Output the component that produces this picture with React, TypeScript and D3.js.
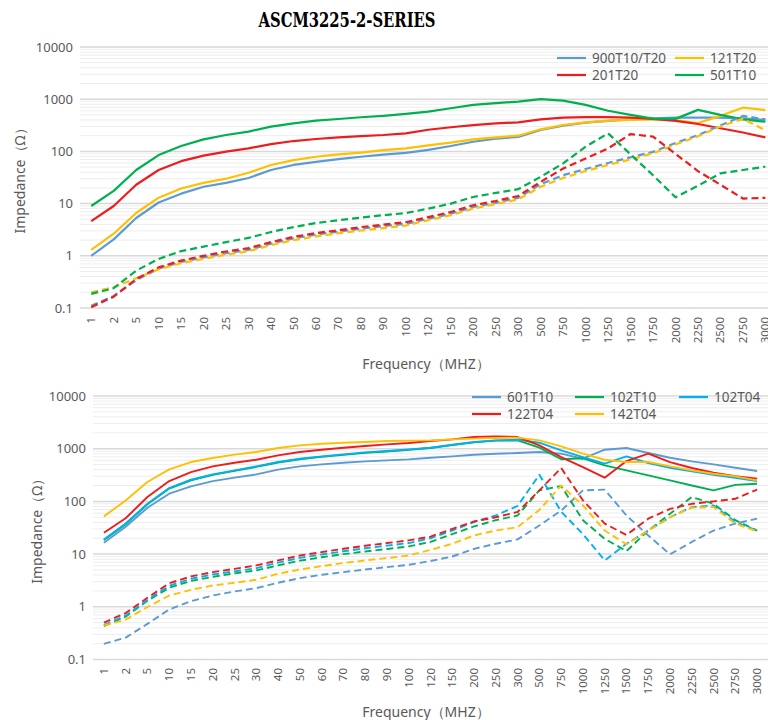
import React from "react";
import * as d3 from "d3";

const categories = ["1","2","5","10","15","20","25","30","40","50","60","70","80","90","100","120","150","200","250","300","500","750","1000","1250","1500","1750","2000","2250","2500","2750","3000"];
const yTicks = [0.1, 1, 10, 100, 1000, 10000];

// ---- Top chart ----
const topNames = ["900T10/T20", "121T20", "201T20", "501T10"];
const topColors = ["#5B9BD5", "#FFC000", "#EE1C1C", "#00B050"];
const top900Solid = [1.0,2.06,5.3,10.5,15.5,21,25,31,44,55,63,71,79,87,94,107,127,153,175,190,257,311,356,383,412,431,444,444,444,431,400];
const top121Solid = [1.3,2.65,6.6,13,19.5,25,30,39,55,68,79,88,95,106,114,130,147,170,186,200,265,320,360,390,400,410,400,350,480,687,620];
const top201Solid = [4.6,9,23,44,65,83,99,114,138,158,173,186,197,206,222,260,290,320,345,360,410,445,455,455,445,420,385,335,278,230,186];
const top501Solid = [9,17.5,44,85,127,170,206,239,298,345,388,418,451,478,522,580,670,780,840,900,1000,940,780,600,500,425,420,625,500,410,370];
const top900Dash = [0.11,0.17,0.34,0.57,0.76,0.93,1.12,1.3,1.7,2.15,2.55,2.9,3.3,3.7,4.1,5.1,6.4,8.6,10.3,12.9,23.5,35,46,60,77,98,145,205,315,478,412];
const top121Dash = [0.2,0.25,0.37,0.55,0.72,0.88,1.05,1.22,1.6,2.0,2.35,2.7,3.05,3.4,3.8,4.8,6.0,8.0,9.8,12,21,31,42,55,70,92,135,195,300,420,255];
const top201Dash = [0.103,0.165,0.36,0.6,0.81,1.0,1.21,1.4,1.83,2.3,2.73,3.07,3.55,3.95,4.4,5.5,6.9,9.3,11.2,14,26,47,73,114,215,192,90,42,23,12.5,12.9];
const top501Dash = [0.186,0.24,0.52,0.87,1.23,1.5,1.83,2.2,2.85,3.55,4.25,4.8,5.4,6.0,6.6,8.0,10,13.4,16,18.9,32.6,59,123,222,88,35,13.2,22,38,44,51];

// ---- Bottom chart ----
const botNames = ["601T10", "102T10", "102T04", "122T04", "142T04"];
const botColors = ["#5B9BD5", "#00B050", "#00B0F0", "#EE1C1C", "#FFC000"];
const bot601Solid = [16.4,33,76,140,193,243,282,325,400,462,505,542,575,600,628,675,715,770,804,827,864,804,646,958,1030,827,675,575,505,436,377];
const bot102T10Solid = [18.5,37,88,175,252,318,380,452,546,632,700,765,835,885,950,1030,1170,1320,1420,1440,1045,630,657,483,388,312,250,200,162,206,216];
const bot102T04Solid = [19,38,90,179,258,325,388,462,558,646,714,780,852,903,970,1045,1190,1340,1440,1480,1300,930,694,519,715,535,436,372,320,281,243];
const bot122Solid = [25.4,48,121,243,360,462,542,617,747,865,958,1045,1124,1208,1280,1400,1500,1665,1713,1665,1157,694,449,282,583,804,558,430,350,302,270];
const bot142Solid = [52,104,233,405,558,666,770,865,1030,1157,1244,1300,1340,1400,1420,1440,1500,1550,1595,1620,1440,1108,804,617,558,558,462,388,335,298,250];
const bot601Dash = [0.198,0.26,0.475,0.89,1.28,1.64,1.95,2.26,2.86,3.5,4.05,4.55,5.1,5.66,6.27,7.4,9.0,12.6,15.7,19,35,67,162,167,54,22.6,9.9,17,28,38,47];
const bot102T10Dash = [0.43,0.65,1.3,2.3,3.1,3.7,4.3,4.9,6.1,7.5,8.7,10,11.2,12.5,14,17,24,33.5,44,54,162,196,44,19.5,11.4,28,58,121,90,44,28];
const bot102T04Dash = [0.45,0.68,1.35,2.5,3.4,4.1,4.7,5.4,6.9,8.5,9.8,11.3,12.9,14.5,16.2,20,28,40.6,54,82,320,64,24,7.6,15.7,28,50,78,84,40.6,28];
const bot122Dash = [0.5,0.76,1.48,2.8,3.77,4.55,5.25,6.1,7.6,9.4,10.9,12.6,14.4,16.2,18.2,21.5,30,41.7,50,63,162,430,105,38,23,47,72,90,100,112,167];
const bot142Dash = [0.44,0.57,0.99,1.64,2.1,2.54,2.86,3.26,4.24,5.1,5.9,6.76,7.6,8.4,9.4,12,15.7,22.6,28,32.5,69,200,84,28,15.3,28,50,76,78,38,27];

const TEXT = "#595959";
const FONT = "'Noto Sans', 'DejaVu Sans', sans-serif";

type Series = { values: number[]; color: string; dashed: boolean };

function Panel(props: {
  x0: number; x1: number; yTop: number; yBottom: number;
  series: Series[]; stroke: number;
  legend: { name: string; color: string; x: number; y: number }[];
  yLabelX: number; xTitleY: number; tickLabelEnd: number;
}) {
  const { x0, x1, yTop, yBottom, series, stroke, legend, yLabelX, xTitleY, tickLabelEnd } = props;
  const x = d3.scalePoint<string>().domain(categories).range([x0, x1]).padding(0.5);
  const y = d3.scaleLog().domain([0.1, 10000]).range([yBottom, yTop]);
  const minor: number[] = [];
  for (let e = -1; e < 4; e++) for (let m = 2; m <= 9; m++) minor.push(m * Math.pow(10, e));
  const line = d3.line<number>().x((_, i) => x(categories[i]) as number).y((v) => y(v));
  return (
    <g>
      {minor.map((v, i) => (
        <line key={"m" + i} x1={x0} x2={768} y1={y(v)} y2={y(v)} stroke="#EDEDED" strokeWidth={1} />
      ))}
      {yTicks.map((v, i) => (
        <line key={"M" + i} x1={x0} x2={768} y1={y(v)} y2={y(v)} stroke="#D9D9D9" strokeWidth={1.5} />
      ))}
      {yTicks.map((v, i) => (
        <text key={"yt" + i} x={x0 - 7} y={y(v)} dy="0.35em" textAnchor="end" fontSize={13} fill={TEXT} fontFamily={FONT}>
          {v === 0.1 ? "0.1" : String(v)}
        </text>
      ))}
      {categories.map((c) => (
        <text key={"xt" + c} transform={`translate(${x(c)},${tickLabelEnd}) rotate(-90)`} dy="0.35em" textAnchor="end" fontSize={11.5} fill={TEXT} fontFamily={FONT}>
          {c}
        </text>
      ))}
      {series.map((s, i) => (
        <path key={"s" + i} d={line(s.values) || ""} fill="none" stroke={s.color} strokeWidth={stroke}
          strokeDasharray={s.dashed ? "7,4" : undefined} strokeLinejoin="round" />
      ))}
      {legend.map((l, i) => (
        <g key={"lg" + i}>
          <line x1={l.x} x2={l.x + 29} y1={l.y} y2={l.y} stroke={l.color} strokeWidth={2.2} />
          <text x={l.x + 35} y={l.y} dy="0.35em" fontSize={13.5} fill={TEXT} fontFamily={FONT}>{l.name}</text>
        </g>
      ))}
      <text transform={`translate(${yLabelX},${(yTop + yBottom) / 2}) rotate(-90)`} textAnchor="middle" dy="0.35em" fontSize={14} fill={TEXT} fontFamily={FONT}>
        Impedance（Ω）
      </text>
      <text x={426} y={xTitleY} textAnchor="middle" dy="0.35em" fontSize={14} fill={TEXT} fontFamily={FONT}>
        Frequency（MHZ）
      </text>
    </g>
  );
}

export default function App() {
  const topSeries: Series[] = [
    { values: top900Solid, color: topColors[0], dashed: false },
    { values: top121Solid, color: topColors[1], dashed: false },
    { values: top201Solid, color: topColors[2], dashed: false },
    { values: top501Solid, color: topColors[3], dashed: false },
    { values: top900Dash, color: topColors[0], dashed: true },
    { values: top121Dash, color: topColors[1], dashed: true },
    { values: top201Dash, color: topColors[2], dashed: true },
    { values: top501Dash, color: topColors[3], dashed: true },
  ];
  const botSeries: Series[] = [
    { values: bot601Solid, color: botColors[0], dashed: false },
    { values: bot102T10Solid, color: botColors[1], dashed: false },
    { values: bot102T04Solid, color: botColors[2], dashed: false },
    { values: bot122Solid, color: botColors[3], dashed: false },
    { values: bot142Solid, color: botColors[4], dashed: false },
    { values: bot601Dash, color: botColors[0], dashed: true },
    { values: bot102T10Dash, color: botColors[1], dashed: true },
    { values: bot102T04Dash, color: botColors[2], dashed: true },
    { values: bot122Dash, color: botColors[3], dashed: true },
    { values: bot142Dash, color: botColors[4], dashed: true },
  ];
  const topLegend = [
    { name: topNames[0], color: topColors[0], x: 557, y: 58 },
    { name: topNames[1], color: topColors[1], x: 675, y: 58 },
    { name: topNames[2], color: topColors[2], x: 557, y: 75 },
    { name: topNames[3], color: topColors[3], x: 675, y: 75 },
  ];
  const botLegend = [
    { name: botNames[0], color: botColors[0], x: 472, y: 397 },
    { name: botNames[1], color: botColors[1], x: 575, y: 397 },
    { name: botNames[2], color: botColors[2], x: 679, y: 397 },
    { name: botNames[3], color: botColors[3], x: 472, y: 414 },
    { name: botNames[4], color: botColors[4], x: 575, y: 414 },
  ];
  return (
    <svg width={768} height={720} style={{ position: "absolute", left: 0, top: 0, background: "#fff" }}>
      <rect x={0} y={0} width={768} height={720} fill="#fff" />
      <text x={347} y={26.5} textAnchor="middle" fontSize={20} fontWeight="bold" fontFamily="'DejaVu Serif', 'Liberation Serif', serif"
        textLength={177} lengthAdjust="spacingAndGlyphs" fill="#000">
        ASCM3225-2-SERIES
      </text>
      <Panel x0={80} x1={776.6} yTop={47} yBottom={308} series={topSeries} stroke={2.2}
        legend={topLegend} yLabelX={20} xTitleY={364} tickLabelEnd={317} />
      <Panel x0={93} x1={768} yTop={396} yBottom={659.5} series={botSeries} stroke={1.9}
        legend={botLegend} yLabelX={37} xTitleY={712} tickLabelEnd={668} />
    </svg>
  );
}
